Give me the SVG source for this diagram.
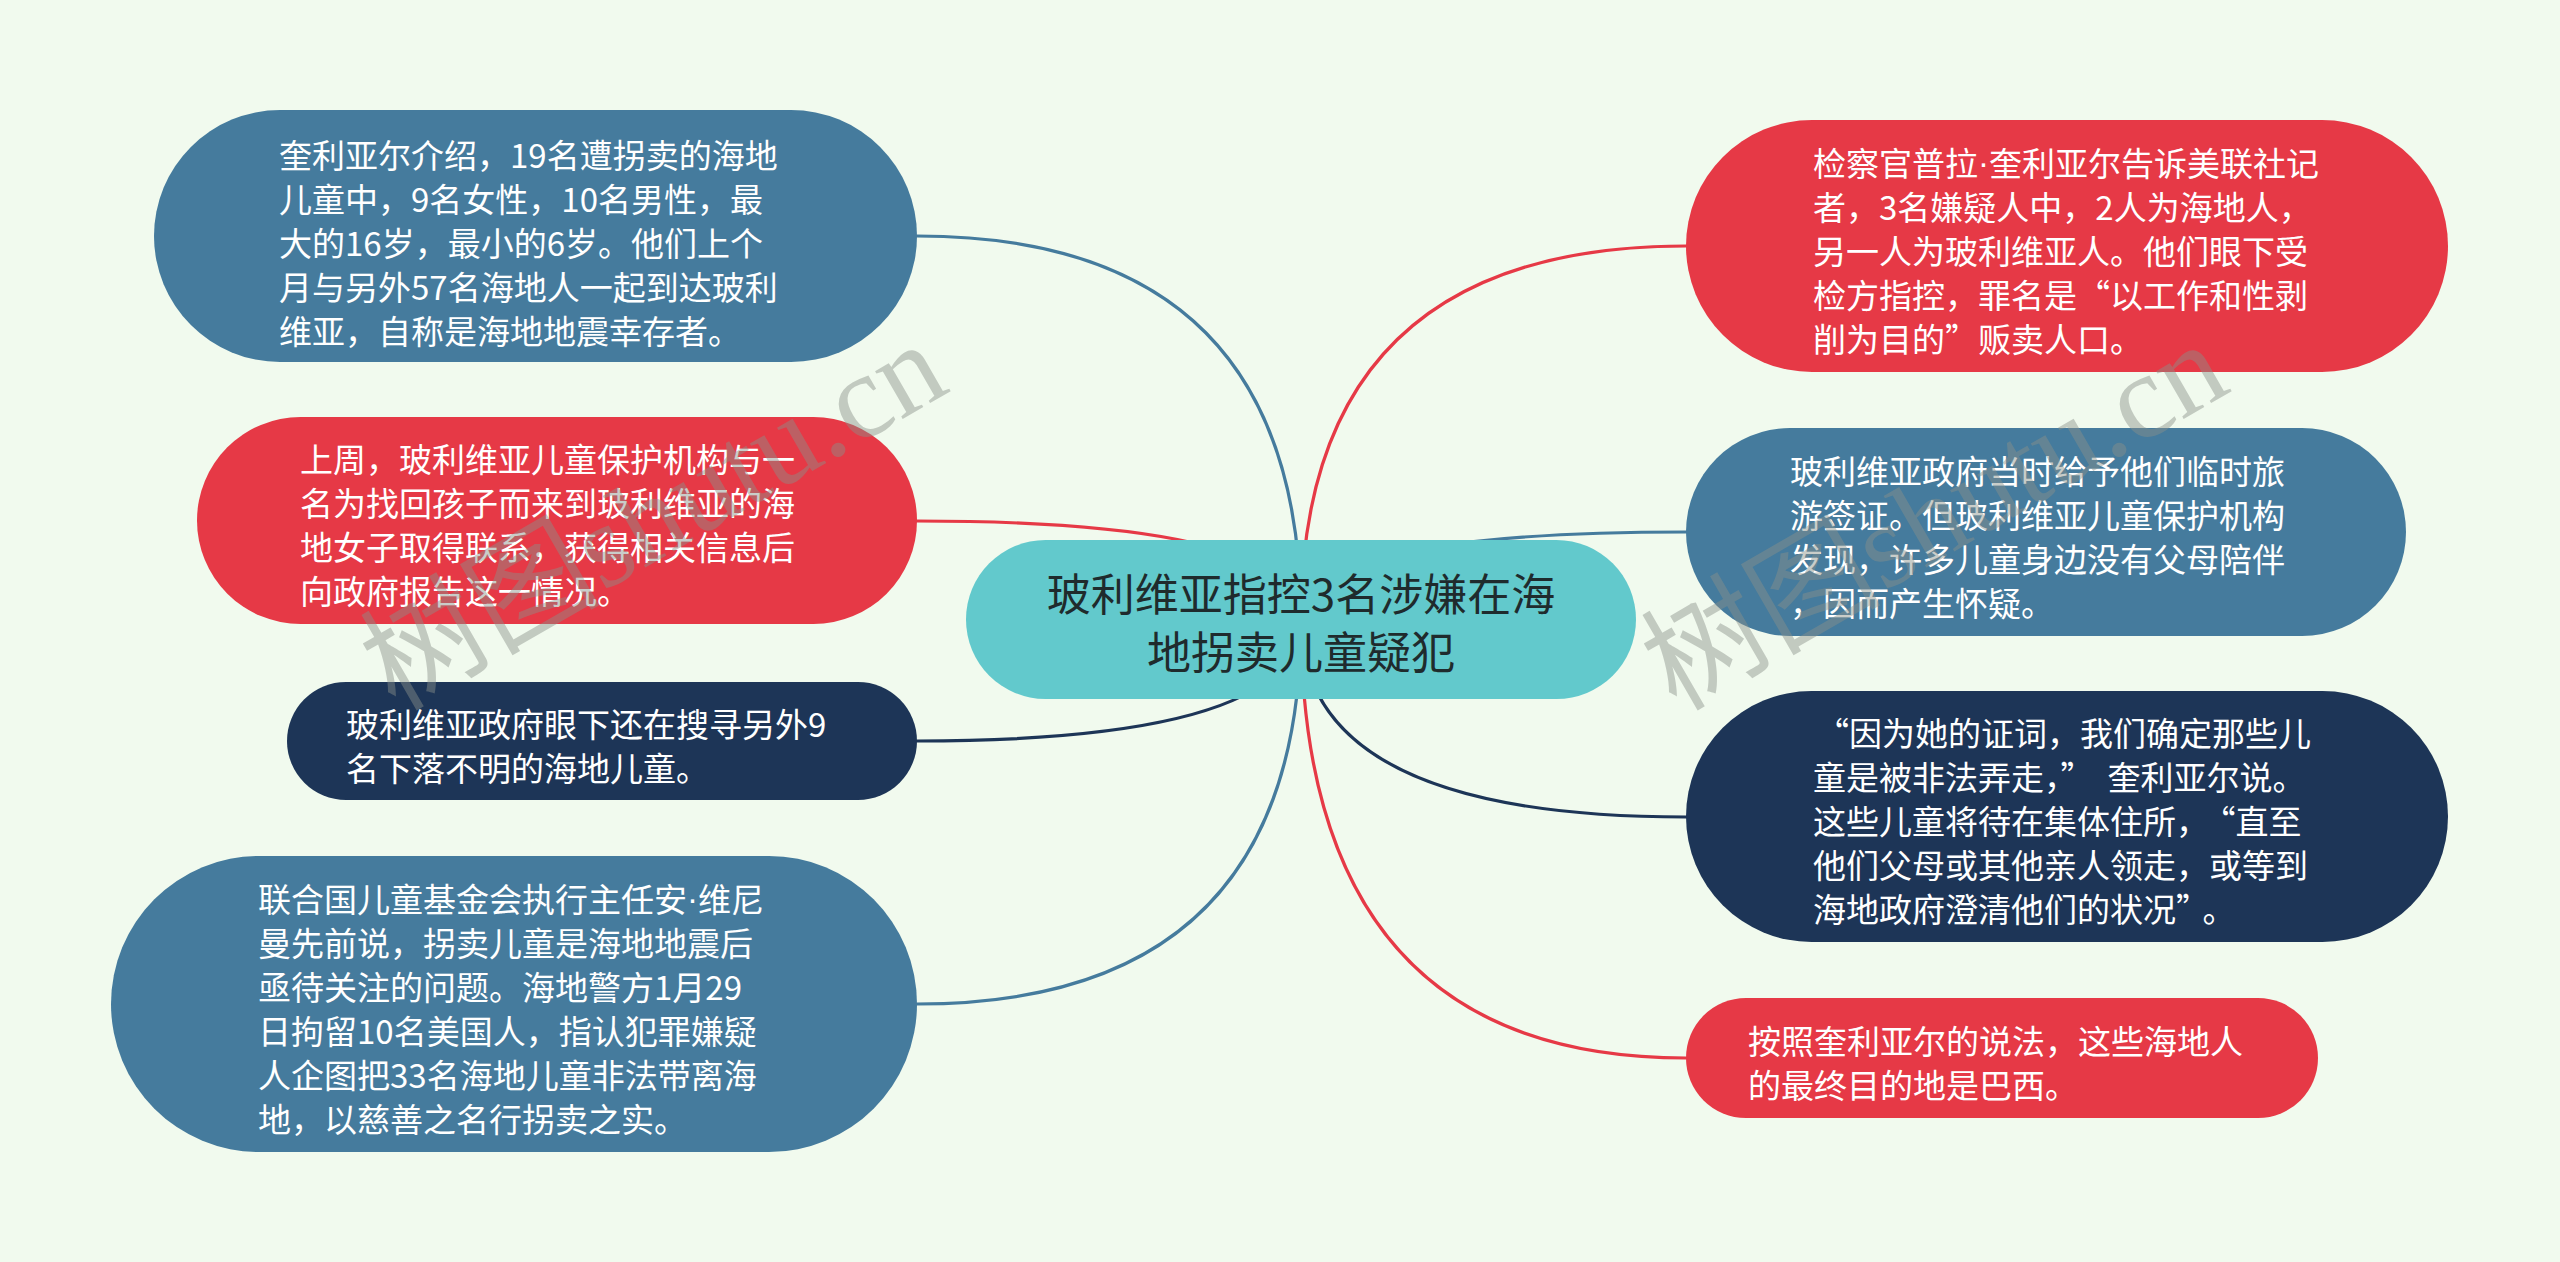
<svg xmlns="http://www.w3.org/2000/svg" width="2560" height="1262" viewBox="0 0 2560 1262" lang="zh-CN">
<style>
.bg{fill:#F1FAEE}
.blue{fill:#457B9D}
.red{fill:#E63946}
.navy{fill:#1D3557}
.root{fill:#62C9CC}
.t{font-family:"Noto Sans CJK SC","Liberation Sans",sans-serif;font-size:33px;fill:#ffffff;dominant-baseline:central}
.rt{font-family:"Noto Sans CJK SC","Liberation Sans",sans-serif;font-size:44px;fill:#1f2b2d;dominant-baseline:central;text-anchor:middle}
.dot{font-family:"Liberation Sans",sans-serif}
.c{fill:none;stroke-width:3.2;stroke-linecap:round}
.cb{stroke:#457B9D}
.cr{stroke:#E63946}
.cn{stroke:#1D3557}
.wm{font-family:"Liberation Serif","Noto Sans CJK SC",serif;font-size:120px;fill:#8a918a;opacity:0.45}
</style>
<rect class="bg" x="0" y="0" width="2560" height="1262"/>
<g id="connectors">
<path class="c cb" d="M1301 620 Q1301 236 917 236"/>
<path class="c cr" d="M1301 620 Q1301 521 917 521"/>
<path class="c cn" d="M1301 620 Q1301 741 917 741"/>
<path class="c cb" d="M1301 620 Q1301 1004 917 1004"/>
<path class="c cr" d="M1301 620 Q1301 246 1686 246"/>
<path class="c cb" d="M1301 620 Q1301 532 1686 532"/>
<path class="c cn" d="M1301 620 Q1301 817 1686 817"/>
<path class="c cr" d="M1301 620 Q1301 1058 1686 1058"/>
</g>
<g id="root">
<rect class="root" x="966" y="540" width="670" height="159" rx="79.5" ry="79.5"/>
<text class="rt" x="1301" y="592">玻利维亚指控3名涉嫌在海</text>
<text class="rt" x="1301" y="650">地拐卖儿童疑犯</text>
</g>
<g id="n1">
<rect class="blue" x="154" y="110" width="763" height="252" rx="126" ry="126"/>
<text class="t" x="279"><tspan x="279" y="154">奎利亚尔介绍，19名遭拐卖的海地</tspan><tspan x="279" y="198">儿童中，9名女性，10名男性，最</tspan><tspan x="279" y="242">大的16岁，最小的6岁。他们上个</tspan><tspan x="279" y="286">月与另外57名海地人一起到达玻利</tspan><tspan x="279" y="330">维亚，自称是海地地震幸存者。</tspan></text>
</g>
<g id="n2">
<rect class="red" x="197" y="417" width="720" height="207" rx="103.5" ry="103.5"/>
<text class="t" x="300"><tspan x="300" y="458">上周，玻利维亚儿童保护机构与一</tspan><tspan x="300" y="502">名为找回孩子而来到玻利维亚的海</tspan><tspan x="300" y="546">地女子取得联系，获得相关信息后</tspan><tspan x="300" y="590">向政府报告这一情况。</tspan></text>
</g>
<g id="n3">
<rect class="navy" x="287" y="682" width="630" height="118" rx="59" ry="59"/>
<text class="t" x="346"><tspan x="346" y="723">玻利维亚政府眼下还在搜寻另外9</tspan><tspan x="346" y="767">名下落不明的海地儿童。</tspan></text>
</g>
<g id="n4">
<rect class="blue" x="111" y="856" width="806" height="296" rx="148" ry="148"/>
<text class="t" x="258"><tspan x="258" y="898">联合国儿童基金会执行主任安<tspan class="dot">·</tspan>维尼</tspan><tspan x="258" y="942">曼先前说，拐卖儿童是海地地震后</tspan><tspan x="258" y="986">亟待关注的问题。海地警方1月29</tspan><tspan x="258" y="1030">日拘留10名美国人，指认犯罪嫌疑</tspan><tspan x="258" y="1074">人企图把33名海地儿童非法带离海</tspan><tspan x="258" y="1118">地，以慈善之名行拐卖之实。</tspan></text>
</g>
<g id="n5">
<rect class="red" x="1686" y="120" width="762" height="252" rx="126" ry="126"/>
<text class="t" x="1813"><tspan x="1813" y="162">检察官普拉<tspan class="dot">·</tspan>奎利亚尔告诉美联社记</tspan><tspan x="1813" y="206">者，3名嫌疑人中，2人为海地人，</tspan><tspan x="1813" y="250">另一人为玻利维亚人。他们眼下受</tspan><tspan x="1813" y="294">检方指控，罪名是“以工作和性剥</tspan><tspan x="1813" y="338">削为目的”贩卖人口。</tspan></text>
</g>
<g id="n6">
<rect class="blue" x="1686" y="428" width="720" height="208" rx="104" ry="104"/>
<text class="t" x="1790"><tspan x="1790" y="470">玻利维亚政府当时给予他们临时旅</tspan><tspan x="1790" y="514">游签证。但玻利维亚儿童保护机构</tspan><tspan x="1790" y="558">发现，许多儿童身边没有父母陪伴</tspan><tspan x="1790" y="602">，因而产生怀疑。</tspan></text>
</g>
<g id="n7">
<rect class="navy" x="1686" y="691" width="762" height="251" rx="125.5" ry="125.5"/>
<text class="t" x="1813"><tspan x="1816" y="732">“因为她的证词，我们确定那些儿</tspan><tspan x="1813" y="776">童是被非法弄走，”<tspan dx="14">奎</tspan>利亚尔说。</tspan><tspan x="1813" y="820">这些儿童将待在集体住所，<tspan dx="10">“</tspan>直至</tspan><tspan x="1813" y="864">他们父母或其他亲人领走，或等到</tspan><tspan x="1813" y="908">海地政府澄清他们的状况”<tspan dx="10">。</tspan></tspan></text>
</g>
<g id="n8">
<rect class="red" x="1686" y="998" width="632" height="120" rx="60" ry="60"/>
<text class="t" x="1748"><tspan x="1748" y="1040">按照奎利亚尔的说法，这些海地人</tspan><tspan x="1748" y="1084">的最终目的地是巴西。</tspan></text>
</g>
<g id="watermark">
<text class="wm" transform="translate(395 712) rotate(-30)">树图shutu.cn</text>
<text class="wm" transform="translate(1676 712) rotate(-30)">树图shutu.cn</text>
</g>
</svg>
